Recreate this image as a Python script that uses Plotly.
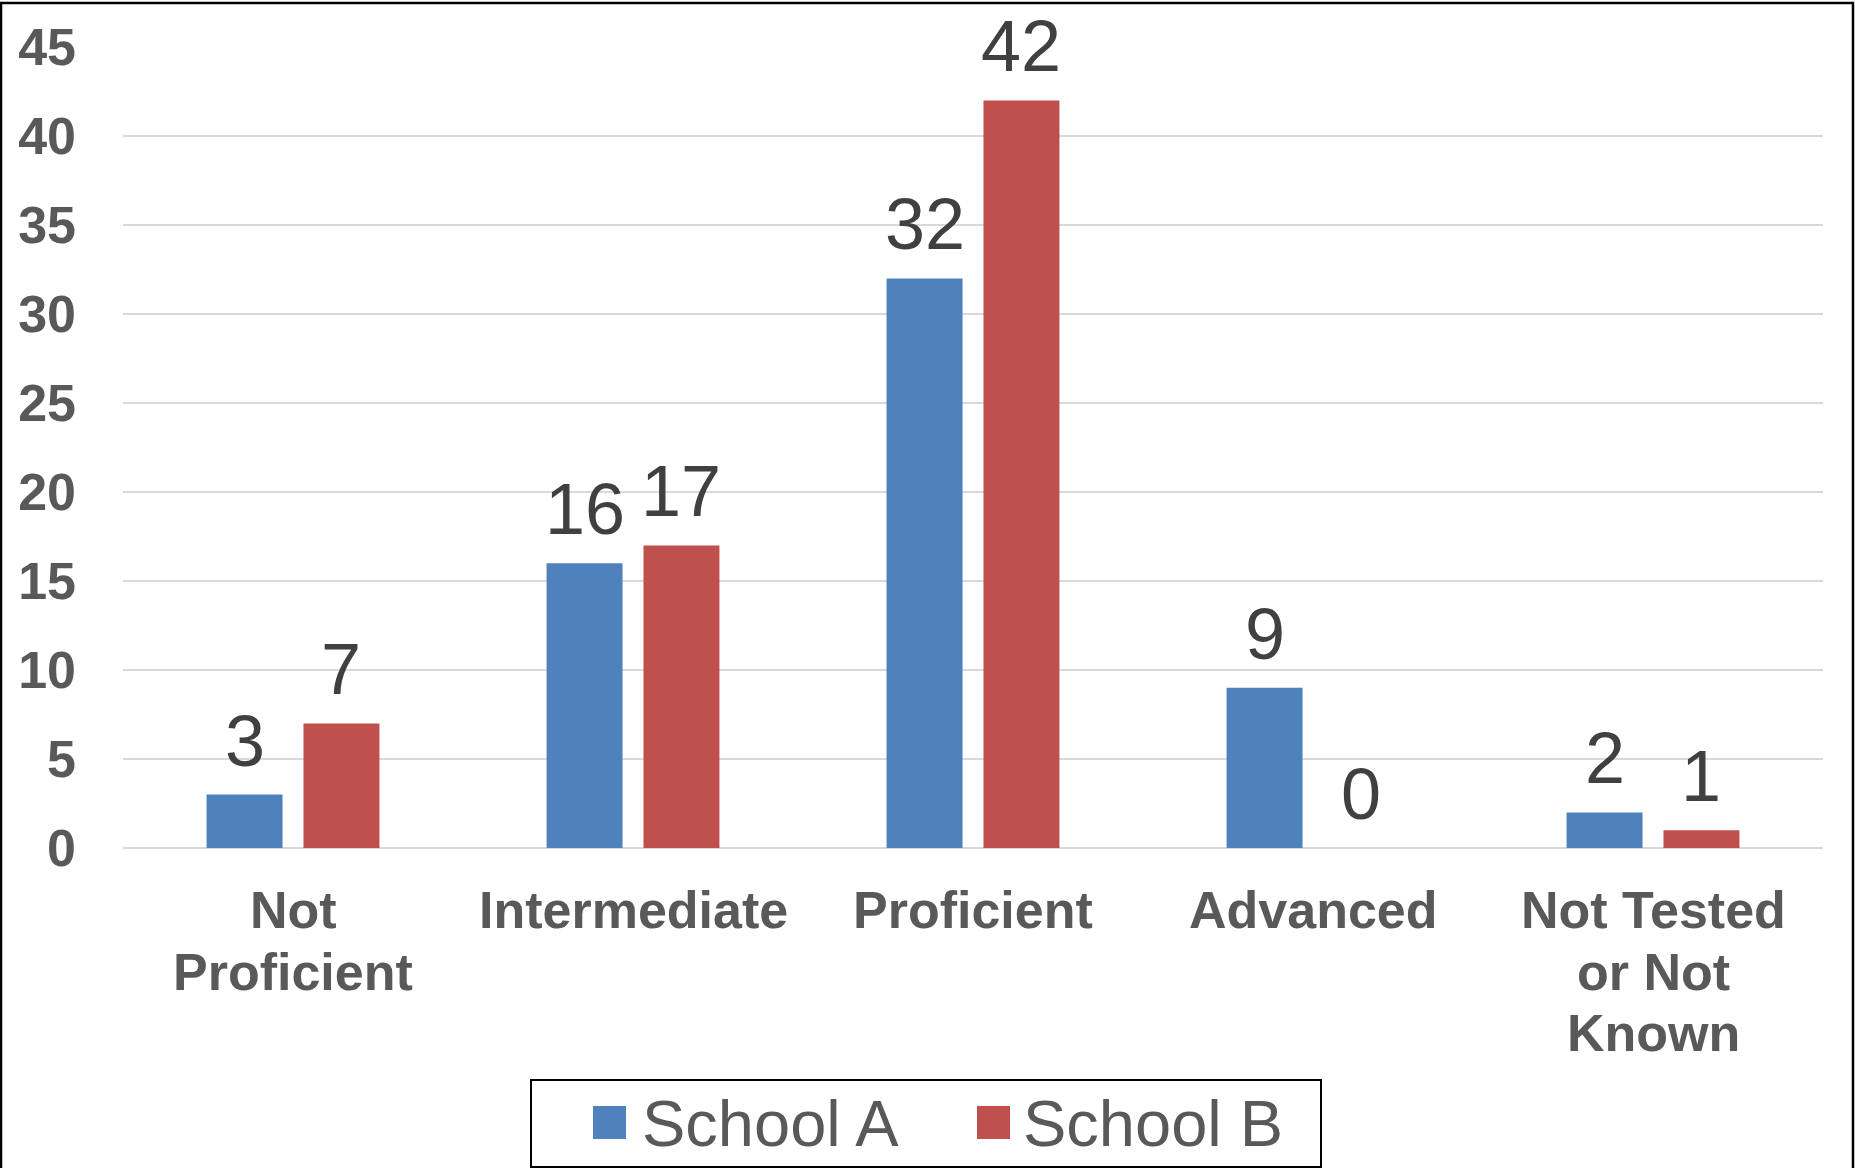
import plotly.graph_objects as go

categories = ["Not<br>Proficient", "Intermediate", "Proficient", "Advanced", "Not Tested<br>or Not<br>Known"]
series_names = ["School A", "School B"]
school_a = [3, 16, 32, 9, 2]
school_b = [7, 17, 42, 0, 1]
y_ticks = [0, 5, 10, 15, 20, 25, 30, 35, 40, 45]

colors = ["#4F81BD", "#C0504D"]
FONT = "Arial, Liberation Sans, sans-serif"

W, H = 1855, 1168
L, R, T, B = 123, 32, 47, 320
PW, PH = W - L - R, H - T - B
BARGAP, GROUPGAP = 0.43, 0.216


def px(x):
    return (x - L) / PW


def py(y):
    return (H - B - y) / PH


fig = go.Figure()
for name, vals, col in zip(series_names, [school_a, school_b], colors):
    fig.add_trace(go.Bar(
        name=name, x=categories, y=vals,
        marker=dict(color=col, line=dict(width=0)),
        showlegend=False, cliponaxis=False,
    ))

annotations = []
# data labels above each bar
slot = PW / len(categories) * (1 - BARGAP) / len(series_names)
for si, vals in enumerate([school_a, school_b]):
    shift = (si - (len(series_names) - 1) / 2) * slot
    for cat, v in zip(categories, vals):
        annotations.append(dict(xref="x", yref="y", x=cat, y=v, xshift=shift, yshift=12,
                                xanchor="center", yanchor="bottom", showarrow=False,
                                text=str(v), font=dict(family=FONT, size=72, color="#404040")))

# category labels (one annotation per line for tighter line spacing)
for cat in categories:
    for li, line in enumerate(cat.split("<br>")):
        annotations.append(dict(xref="x", yref="paper", x=cat, y=py(910 + li * 61.7),
                                xanchor="center", yanchor="middle", showarrow=False,
                                text=line, font=dict(family=FONT, size=52, color="#595959", weight="bold")))

shapes = []
# outer frame (left, top, right)
shapes.append(dict(type="path", xref="paper", yref="paper",
                   path=f"M {px(1)},{py(1168)} L {px(1)},{py(3)} L {px(1853)},{py(3)} L {px(1853)},{py(1168)}",
                   line=dict(color="#000000", width=2.5)))
# legend box
shapes.append(dict(type="rect", xref="paper", yref="paper",
                   x0=px(531), x1=px(1321), y0=py(1080), y1=py(1167),
                   line=dict(color="#000000", width=2), fillcolor="rgba(0,0,0,0)"))
legend_sq_x = [593, 977]
legend_tx_x = [640, 1021]
for name, col, sx, tx in zip(series_names, colors, legend_sq_x, legend_tx_x):
    shapes.append(dict(type="rect", xref="paper", yref="paper",
                       x0=px(sx), x1=px(sx + 33), y0=py(1106), y1=py(1139),
                       line=dict(width=0), fillcolor=col))
    annotations.append(dict(xref="paper", yref="paper", x=px(tx), y=py(1123),
                            xanchor="left", yanchor="middle", showarrow=False,
                            text=name, font=dict(family=FONT, size=65, color="#595959")))

fig.update_layout(
    width=W, height=H, autosize=False,
    margin=dict(l=L, r=R, t=T, b=B, pad=0),
    paper_bgcolor="white", plot_bgcolor="white",
    barmode="group", bargap=BARGAP, bargroupgap=GROUPGAP,
    shapes=shapes, annotations=annotations,
    xaxis=dict(showgrid=False, showline=False, ticks="", zeroline=False, showticklabels=False),
    yaxis=dict(range=[0, 45], tickvals=y_ticks, showgrid=True, gridcolor="#D9D9D9", gridwidth=2,
               zeroline=True, zerolinecolor="#D9D9D9", zerolinewidth=2, showline=False, ticks="",
               tickfont=dict(family=FONT, size=52, color="#595959", weight="bold"),
               ticklabelstandoff=46),
)

fig.write_html("out.html")
